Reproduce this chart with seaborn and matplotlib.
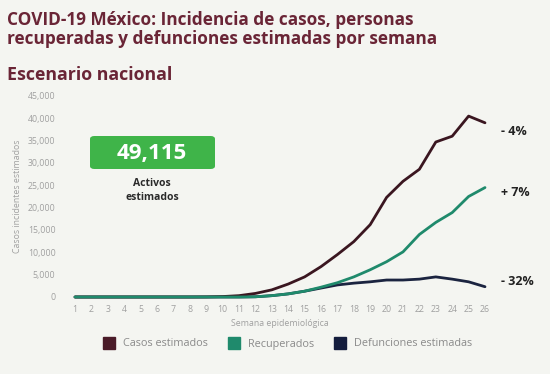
import matplotlib
matplotlib.use("Agg")
import matplotlib.pyplot as plt
import seaborn as sns
import pandas as pd
from matplotlib.lines import Line2D
from matplotlib.patches import FancyBboxPatch

weeks = list(range(1, 27))
casos = [0, 0, 0, 0, 0, 0, 0, 0, 20, 100, 300, 800, 1600, 2900, 4500, 6800,
         9500, 12400, 16200, 22300, 25900, 28600, 34700, 36000, 40500, 39000]
recuperados = [0, 0, 0, 0, 0, 0, 0, 0, 0, 0, 0, 50, 300, 700, 1300, 2200,
               3200, 4500, 6100, 7900, 10100, 14000, 16700, 18900, 22500, 24500]
defunciones = [0, 0, 0, 0, 0, 0, 0, 0, 0, 0, 0, 50, 300, 700, 1300, 2000,
               2700, 3100, 3400, 3800, 3800, 4000, 4500, 4000, 3400, 2300]
series_names = ["Casos estimados", "Recuperados", "Defunciones estimadas"]
end_labels = ["- 4%", "+ 7%", "- 32%"]
ytick_vals = list(range(0, 45001, 5000))
ytick_labels = ["0", "5,000", "10,000", "15,000", "20,000", "25,000",
                "30,000", "35,000", "40,000", "45,000"]
activos = "49,115"

colors = {"Casos estimados": "#3a1620", "Recuperados": "#1f8a6c",
          "Defunciones estimadas": "#1b2440"}
legend_colors = {"Casos estimados": "#4a1b28", "Recuperados": "#1f8a6c",
                 "Defunciones estimadas": "#141d3d"}

df = pd.DataFrame({
    "Semana": weeks * 3,
    "Valor": casos + recuperados + defunciones,
    "Serie": [series_names[0]] * 26 + [series_names[1]] * 26 + [series_names[2]] * 26,
})

sns.set_theme(style="white")
plt.rcParams["font.family"] = ["Open Sans", "DejaVu Sans"]

bg = "#f4f5f1"
fig = plt.figure(figsize=(5.5, 3.74), dpi=100, facecolor=bg)
ax = fig.add_axes([75 / 550, 1 - 297 / 374, 410 / 550, (297 - 96) / 374])
ax.set_facecolor(bg)

order = ["Defunciones estimadas", "Casos estimados", "Recuperados"]
for name in order:
    sub = df[df["Serie"] == name]
    sns.lineplot(data=sub, x="Semana", y="Valor", color=colors[name], lw=2.0,
                 ax=ax, legend=False, clip_on=False)

ax.set_xlim(1, 26)
ax.set_ylim(0, 45000)
ax.set_xticks(weeks)
ax.set_xticklabels([str(w) for w in weeks], fontsize=6.3, color="#a0a0a0")
ax.set_yticks(ytick_vals)
ax.set_yticklabels(ytick_labels, fontsize=6.3, color="#a0a0a0")
ax.tick_params(axis="x", length=0, pad=6)
ax.tick_params(axis="y", length=0, pad=14)
for s in ax.spines.values():
    s.set_visible(False)
ax.set_xlabel("Semana epidemiológica", fontsize=6.3, color="#a0a0a0", labelpad=3)
ax.set_ylabel("Casos incidentes estimados", fontsize=6.3, color="#a0a0a0", labelpad=4)

# end labels
finals = [casos[-1], recuperados[-1], defunciones[-1]]
offsets = [-2000, -1100, 1100]
for lab, v, off in zip(end_labels, finals, offsets):
    ax.text(27, v + off, lab, fontsize=9, fontweight="bold", color="#222222",
            va="center", ha="left", clip_on=False)

# title
title_color = "#6a2536"
fs_t = 12.4
fig.text(7 / 550, 1 - 20 / 374, "COVID-19 México: Incidencia de casos, personas",
         fontsize=fs_t, fontweight="bold", color=title_color, va="center")
fig.text(7 / 550, 1 - 39 / 374, "recuperadas y defunciones estimadas por semana",
         fontsize=fs_t, fontweight="bold", color=title_color, va="center")
fig.text(7 / 550, 1 - 75 / 374, "Escenario nacional",
         fontsize=fs_t + 0.4, fontweight="bold", color=title_color, va="center")

# green box
box = FancyBboxPatch((90 / 550, 1 - 169 / 374), 125 / 550, 33 / 374,
                     boxstyle="round,pad=0,rounding_size=0.008",
                     transform=fig.transFigure, facecolor="#3fb449",
                     edgecolor="none", zorder=5)
fig.patches.append(box)
fig.text(152 / 550, 1 - 153 / 374, activos, fontsize=16, fontweight="bold",
         color="white", ha="center", va="center", zorder=6)
fig.text(152 / 550, 1 - 184 / 374, "Activos", fontsize=7.5, fontweight="bold",
         color="#2a2a2a", ha="center", va="center")
fig.text(152 / 550, 1 - 198 / 374, "estimados", fontsize=7.5, fontweight="bold",
         color="#2a2a2a", ha="center", va="center")

# legend
handles = [Line2D([0], [0], marker="s", linestyle="none", markersize=9,
                  markerfacecolor=legend_colors[n], markeredgecolor=legend_colors[n])
           for n in series_names]
leg = fig.legend(handles, series_names, loc="center", ncol=3,
                 bbox_to_anchor=(285 / 550, 1 - 344 / 374), frameon=False,
                 fontsize=7.8, handletextpad=0.3, columnspacing=1.4)
for t in leg.get_texts():
    t.set_color("#8a8a8a")

fig.savefig("out.png", dpi=100, facecolor=bg)
